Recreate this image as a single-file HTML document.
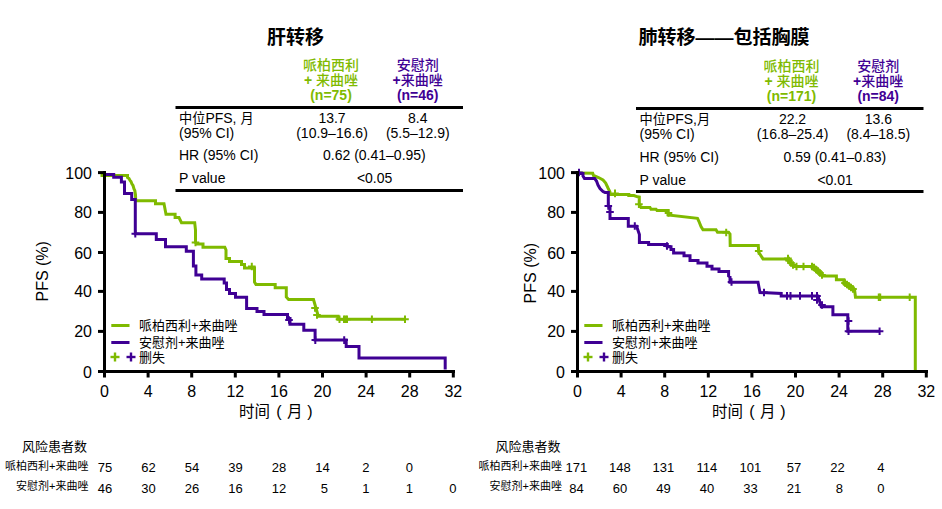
<!DOCTYPE html>
<html><head><meta charset="utf-8"><title>PFS</title>
<style>
html,body{margin:0;padding:0;background:#fff;width:942px;height:509px;overflow:hidden}
svg{display:block}
text{font-family:'Liberation Sans','Noto Sans CJK SC',sans-serif}
</style></head><body>
<svg width="942" height="509" viewBox="0 0 942 509">
<rect width="942" height="509" fill="#fff"/>
<g transform="translate(0,0)"><text x="267" y="44.0" font-size="19" font-weight="bold">肝转移</text><text x="331" y="70" text-anchor="middle" font-size="14" font-weight="bold" fill="#7fba00"><tspan font-weight="500">哌柏西利</tspan></text><text x="331" y="84.5" text-anchor="middle" font-size="14" font-weight="bold" fill="#7fba00">+ <tspan font-weight="500">来曲唑</tspan></text><text x="331" y="99.6" text-anchor="middle" font-size="14" font-weight="bold" fill="#7fba00">(n=75)</text><text x="417.7" y="70" text-anchor="middle" font-size="14" font-weight="bold" fill="#3f0094"><tspan font-weight="500">安慰剂</tspan></text><text x="417.7" y="84.5" text-anchor="middle" font-size="14" font-weight="bold" fill="#3f0094">+<tspan font-weight="500">来曲唑</tspan></text><text x="417.7" y="99.6" text-anchor="middle" font-size="14" font-weight="bold" fill="#3f0094">(n=46)</text><rect x="175.5" y="106" width="287.5" height="3" fill="#000"/><rect x="175.5" y="189" width="287.5" height="3" fill="#000"/><text x="179" y="123" font-size="14"><tspan font-size="13.2">中位</tspan>PFS, <tspan font-size="13.2">月</tspan></text><text x="179" y="137.6" font-size="14">(95% CI)</text><text x="179" y="159.7" font-size="14">HR (95% CI)</text><text x="179" y="182.9" font-size="14">P value</text><text x="332" y="123" text-anchor="middle" font-size="14">13.7</text><text x="332" y="137.6" text-anchor="middle" font-size="14">(10.9–16.6)</text><text x="417.8" y="123" text-anchor="middle" font-size="14">8.4</text><text x="417.8" y="137.6" text-anchor="middle" font-size="14">(5.5–12.9)</text><text x="374.4" y="159.7" text-anchor="middle" font-size="14">0.62 (0.41–0.95)</text><text x="374.6" y="182.6" text-anchor="middle" font-size="14">&lt;0.05</text></g><g transform="translate(0,1)"><text x="638.5" y="43.2" font-size="19" font-weight="bold">肺转移——包括胸膜</text><text x="791.5" y="70" text-anchor="middle" font-size="14" font-weight="bold" fill="#7fba00"><tspan font-weight="500">哌柏西利</tspan></text><text x="791.5" y="84.5" text-anchor="middle" font-size="14" font-weight="bold" fill="#7fba00">+ <tspan font-weight="500">来曲唑</tspan></text><text x="791.5" y="99.6" text-anchor="middle" font-size="14" font-weight="bold" fill="#7fba00">(n=171)</text><text x="878.2" y="70" text-anchor="middle" font-size="14" font-weight="bold" fill="#3f0094"><tspan font-weight="500">安慰剂</tspan></text><text x="878.2" y="84.5" text-anchor="middle" font-size="14" font-weight="bold" fill="#3f0094">+<tspan font-weight="500">来曲唑</tspan></text><text x="878.2" y="99.6" text-anchor="middle" font-size="14" font-weight="bold" fill="#3f0094">(n=84)</text><rect x="636.0" y="106" width="287.5" height="3" fill="#000"/><rect x="636.0" y="189" width="287.5" height="3" fill="#000"/><text x="639.5" y="123" font-size="14"><tspan font-size="13.2">中位</tspan>PFS,<tspan font-size="13.2">月</tspan></text><text x="639.5" y="137.6" font-size="14">(95% CI)</text><text x="639.5" y="160.6" font-size="14">HR (95% CI)</text><text x="639.5" y="183.8" font-size="14">P value</text><text x="792.5" y="123" text-anchor="middle" font-size="14">22.2</text><text x="792.5" y="137.6" text-anchor="middle" font-size="14">(16.8–25.4)</text><text x="878.3" y="123" text-anchor="middle" font-size="14">13.6</text><text x="878.3" y="137.6" text-anchor="middle" font-size="14">(8.4–18.5)</text><text x="834.9" y="160.6" text-anchor="middle" font-size="14">0.59 (0.41–0.83)</text><text x="835.1" y="183.5" text-anchor="middle" font-size="14">&lt;0.01</text></g><polyline points="100.5,175.5 127.5,175.5 127.5,177.5 129.0,178.6 130.0,180.5 131.0,181.6 132.0,184.0 133.0,185.5 134.0,189.0 134.8,190.5 135.5,195.0 135.7,200.7 155.5,200.7 155.5,203.8 164.0,203.8 166.0,214.2 175.1,214.2 175.1,217.5 179.0,217.5 181.5,222.7 194.7,222.7 195.5,230.0 195.5,242.5 197.0,244.0 203.0,244.0 203.0,247.2 224.8,247.2 226.0,250.0 226.0,258.5 229.5,258.5 229.5,261.4 241.5,261.4 241.5,264.5 244.5,264.5 244.5,268.0 254.5,268.0 254.5,282.0 256.0,284.6 275.2,284.6 275.2,287.8 286.3,287.8 286.3,297.0 288.6,299.5 313.5,299.5 318.3,316.2 338.0,316.2 338.0,319.3 405.0,319.3" fill="none" stroke="#7fba00" stroke-width="3" stroke-linejoin="miter" stroke-linecap="butt"/><path d="M194.5 238.7h2v7.6h-2z M191.7 241.5h7.6v2h-7.6z" fill="#7fba00"/><path d="M250.8 262.7h2v7.6h-2z M248.0 265.5h7.6v2h-7.6z" fill="#7fba00"/><path d="M314.0 304.2h2v7.6h-2z M311.2 307.0h7.6v2h-7.6z" fill="#7fba00"/><path d="M316.0 311.2h2v7.6h-2z M313.2 314.0h7.6v2h-7.6z" fill="#7fba00"/><path d="M338.5 315.5h2v7.6h-2z M335.7 318.3h7.6v2h-7.6z" fill="#7fba00"/><path d="M343.0 315.5h2v7.6h-2z M340.2 318.3h7.6v2h-7.6z" fill="#7fba00"/><path d="M344.5 315.5h2v7.6h-2z M341.7 318.3h7.6v2h-7.6z" fill="#7fba00"/><path d="M346.0 315.5h2v7.6h-2z M343.2 318.3h7.6v2h-7.6z" fill="#7fba00"/><path d="M370.9 315.5h2v7.6h-2z M368.1 318.3h7.6v2h-7.6z" fill="#7fba00"/><path d="M404.0 315.5h2v7.6h-2z M401.2 318.3h7.6v2h-7.6z" fill="#7fba00"/><polyline points="104.0,174.4 113.7,174.4 113.7,177.3 121.4,177.3 121.4,182.0 124.5,182.0 124.5,193.5 131.7,193.5 131.7,199.5 135.3,199.5 135.3,233.7 156.3,233.7 156.3,239.5 165.5,239.5 165.5,246.7 186.3,246.7 186.3,251.2 193.4,251.2 193.4,266.1 195.9,266.1 195.9,275.1 201.7,275.1 201.7,279.1 224.2,279.1 224.2,283.0 226.5,283.0 226.5,289.5 229.5,289.5 229.5,293.6 235.5,293.6 235.5,297.2 246.6,297.2 246.6,308.4 257.0,308.4 257.0,311.5 264.0,311.5 264.0,314.5 287.5,314.5 287.5,318.5 290.0,318.5 290.0,324.2 303.8,324.2 303.8,330.2 315.1,330.2 315.1,340.1 346.2,340.1 346.2,346.5 359.0,346.5 359.0,357.9 445.2,357.9 445.2,369.5" fill="none" stroke="#3f0094" stroke-width="3" stroke-linejoin="miter" stroke-linecap="butt"/><path d="M134.3 229.9h2v7.6h-2z M131.5 232.7h7.6v2h-7.6z" fill="#3f0094"/><path d="M288.0 316.2h2v7.6h-2z M285.2 319.0h7.6v2h-7.6z" fill="#3f0094"/><path d="M314.3 336.3h2v7.6h-2z M311.5 339.1h7.6v2h-7.6z" fill="#3f0094"/><path d="M343.2 336.3h2v7.6h-2z M340.4 339.1h7.6v2h-7.6z" fill="#3f0094"/><polyline points="579.0,173.0 592.7,173.3 593.5,175.5 598.5,177.5 603.0,180.0 605.7,183.0 608.0,188.0 610.0,192.0 610.0,194.4 628.8,194.4 628.8,195.6 634.0,195.6 637.5,196.8 639.3,197.0 639.3,204.4 641.0,207.5 650.0,207.5 651.0,209.2 656.0,209.2 657.0,210.5 668.0,210.5 668.0,215.0 697.5,218.3 699.0,221.5 701.0,226.5 703.0,229.7 716.0,229.7 717.5,232.2 728.5,232.2 730.0,234.0 730.2,245.5 758.3,245.5 758.6,252.0 763.0,258.9 786.0,258.9 794.0,266.5 812.0,266.5 823.7,276.0 836.4,276.0 836.4,279.7 843.9,279.7 843.9,284.0 854.5,289.3 855.5,297.2 915.3,297.2 915.3,370.0" fill="none" stroke="#7fba00" stroke-width="3" stroke-linejoin="miter" stroke-linecap="butt"/><path d="M614.0 189.6h2v7.6h-2z M611.2 192.4h7.6v2h-7.6z" fill="#7fba00"/><path d="M637.9 200.4h2v7.6h-2z M635.1 203.2h7.6v2h-7.6z" fill="#7fba00"/><path d="M667.5 209.2h2v7.6h-2z M664.7 212.0h7.6v2h-7.6z" fill="#7fba00"/><path d="M725.2 228.7h2v7.6h-2z M722.4 231.5h7.6v2h-7.6z" fill="#7fba00"/><path d="M757.7 247.2h2v7.6h-2z M754.9 250.0h7.6v2h-7.6z" fill="#7fba00"/><path d="M787.0 254.8h2v7.6h-2z M784.2 257.6h7.6v2h-7.6z" fill="#7fba00"/><path d="M788.0 256.7h2v7.6h-2z M785.2 259.5h7.6v2h-7.6z" fill="#7fba00"/><path d="M790.0 259.2h2v7.6h-2z M787.2 262.0h7.6v2h-7.6z" fill="#7fba00"/><path d="M792.0 261.2h2v7.6h-2z M789.2 264.0h7.6v2h-7.6z" fill="#7fba00"/><path d="M795.5 262.7h2v7.6h-2z M792.7 265.5h7.6v2h-7.6z" fill="#7fba00"/><path d="M802.5 262.7h2v7.6h-2z M799.7 265.5h7.6v2h-7.6z" fill="#7fba00"/><path d="M811.0 262.7h2v7.6h-2z M808.2 265.5h7.6v2h-7.6z" fill="#7fba00"/><path d="M813.0 263.7h2v7.6h-2z M810.2 266.5h7.6v2h-7.6z" fill="#7fba00"/><path d="M815.0 265.7h2v7.6h-2z M812.2 268.5h7.6v2h-7.6z" fill="#7fba00"/><path d="M817.0 267.2h2v7.6h-2z M814.2 270.0h7.6v2h-7.6z" fill="#7fba00"/><path d="M819.0 269.2h2v7.6h-2z M816.2 272.0h7.6v2h-7.6z" fill="#7fba00"/><path d="M821.0 271.2h2v7.6h-2z M818.2 274.0h7.6v2h-7.6z" fill="#7fba00"/><path d="M844.0 279.2h2v7.6h-2z M841.2 282.0h7.6v2h-7.6z" fill="#7fba00"/><path d="M846.0 280.7h2v7.6h-2z M843.2 283.5h7.6v2h-7.6z" fill="#7fba00"/><path d="M848.0 282.2h2v7.6h-2z M845.2 285.0h7.6v2h-7.6z" fill="#7fba00"/><path d="M850.0 283.7h2v7.6h-2z M847.2 286.5h7.6v2h-7.6z" fill="#7fba00"/><path d="M852.0 285.2h2v7.6h-2z M849.2 288.0h7.6v2h-7.6z" fill="#7fba00"/><path d="M877.8 293.4h2v7.6h-2z M875.0 296.2h7.6v2h-7.6z" fill="#7fba00"/><path d="M879.2 293.4h2v7.6h-2z M876.4 296.2h7.6v2h-7.6z" fill="#7fba00"/><path d="M908.7 293.4h2v7.6h-2z M905.9 296.2h7.6v2h-7.6z" fill="#7fba00"/><polyline points="579.0,173.4 583.0,173.4 583.0,176.0 584.5,178.5 594.7,178.5 596.5,181.0 598.0,185.0 600.0,188.5 603.0,191.5 605.0,192.4 608.3,192.4 608.3,206.0 610.0,207.5 610.0,218.6 628.3,218.6 628.3,226.3 636.6,226.3 639.4,234.4 639.4,242.4 648.6,242.4 648.6,244.4 667.3,244.4 667.3,246.8 671.0,246.8 671.0,249.5 673.6,249.5 673.6,253.0 684.0,253.0 684.0,255.7 690.0,255.7 690.0,260.4 698.0,260.4 698.0,263.1 707.0,263.1 707.0,266.2 712.0,266.2 712.0,268.9 719.0,268.9 719.0,271.6 728.6,271.6 728.6,276.0 730.0,277.0 730.0,282.2 758.0,282.2 760.0,292.5 781.2,293.5 781.2,295.9 818.0,295.9 821.2,306.8 832.9,306.8 832.9,314.7 847.8,314.7 847.8,331.2 880.0,331.2" fill="none" stroke="#3f0094" stroke-width="3" stroke-linejoin="miter" stroke-linecap="butt"/><path d="M578.0 168.7h2v7.6h-2z M575.2 171.5h7.6v2h-7.6z" fill="#3f0094"/><path d="M607.3 202.2h2v7.6h-2z M604.5 205.0h7.6v2h-7.6z" fill="#3f0094"/><path d="M609.0 208.2h2v7.6h-2z M606.2 211.0h7.6v2h-7.6z" fill="#3f0094"/><path d="M633.8 222.2h2v7.6h-2z M631.0 225.0h7.6v2h-7.6z" fill="#3f0094"/><path d="M666.0 242.2h2v7.6h-2z M663.2 245.0h7.6v2h-7.6z" fill="#3f0094"/><path d="M730.5 278.2h2v7.6h-2z M727.7 281.0h7.6v2h-7.6z" fill="#3f0094"/><path d="M763.0 288.7h2v7.6h-2z M760.2 291.5h7.6v2h-7.6z" fill="#3f0094"/><path d="M786.0 292.1h2v7.6h-2z M783.2 294.9h7.6v2h-7.6z" fill="#3f0094"/><path d="M789.5 292.1h2v7.6h-2z M786.7 294.9h7.6v2h-7.6z" fill="#3f0094"/><path d="M799.0 292.1h2v7.6h-2z M796.2 294.9h7.6v2h-7.6z" fill="#3f0094"/><path d="M811.0 292.1h2v7.6h-2z M808.2 294.9h7.6v2h-7.6z" fill="#3f0094"/><path d="M816.0 292.1h2v7.6h-2z M813.2 294.9h7.6v2h-7.6z" fill="#3f0094"/><path d="M816.0 296.2h2v7.6h-2z M813.2 299.0h7.6v2h-7.6z" fill="#3f0094"/><path d="M821.0 301.2h2v7.6h-2z M818.2 304.0h7.6v2h-7.6z" fill="#3f0094"/><path d="M847.5 317.2h2v7.6h-2z M844.7 320.0h7.6v2h-7.6z" fill="#3f0094"/><path d="M847.5 327.4h2v7.6h-2z M844.7 330.2h7.6v2h-7.6z" fill="#3f0094"/><path d="M878.6 327.4h2v7.6h-2z M875.8 330.2h7.6v2h-7.6z" fill="#3f0094"/><rect x="103" y="171" width="3" height="202" fill="#000"/><rect x="103" y="370" width="352" height="3" fill="#000"/><rect x="98" y="370.0" width="6" height="3" fill="#000"/><rect x="98" y="329.9" width="6" height="3" fill="#000"/><rect x="98" y="289.9" width="6" height="3" fill="#000"/><rect x="98" y="251.0" width="6" height="3" fill="#000"/><rect x="98" y="210.9" width="6" height="3" fill="#000"/><rect x="98" y="171.1" width="6" height="3" fill="#000"/><rect x="103.0" y="371" width="3" height="6.5" fill="#000"/><rect x="146.6" y="371" width="3" height="6.5" fill="#000"/><rect x="190.2" y="371" width="3" height="6.5" fill="#000"/><rect x="233.8" y="371" width="3" height="6.5" fill="#000"/><rect x="277.4" y="371" width="3" height="6.5" fill="#000"/><rect x="321.0" y="371" width="3" height="6.5" fill="#000"/><rect x="364.6" y="371" width="3" height="6.5" fill="#000"/><rect x="408.2" y="371" width="3" height="6.5" fill="#000"/><rect x="451.8" y="371" width="3" height="6.5" fill="#000"/><text x="92" y="377.5" text-anchor="end" font-size="16">0</text><text x="92" y="337.4" text-anchor="end" font-size="16">20</text><text x="92" y="297.4" text-anchor="end" font-size="16">40</text><text x="92" y="258.5" text-anchor="end" font-size="16">60</text><text x="92" y="218.4" text-anchor="end" font-size="16">80</text><text x="92" y="178.6" text-anchor="end" font-size="16">100</text><text x="104.5" y="397" text-anchor="middle" font-size="16">0</text><text x="148.1" y="397" text-anchor="middle" font-size="16">4</text><text x="191.7" y="397" text-anchor="middle" font-size="16">8</text><text x="235.3" y="397" text-anchor="middle" font-size="16">12</text><text x="278.9" y="397" text-anchor="middle" font-size="16">16</text><text x="322.5" y="397" text-anchor="middle" font-size="16">20</text><text x="366.1" y="397" text-anchor="middle" font-size="16">24</text><text x="409.7" y="397" text-anchor="middle" font-size="16">28</text><text x="453.3" y="397" text-anchor="middle" font-size="16">32</text><text transform="translate(48.3,271.3) rotate(-90)" text-anchor="middle" font-size="16">PFS (%)</text><text y="416.6" font-size="15.5"><tspan x="239">时间</tspan><tspan x="276.3" font-size="16">(</tspan><tspan x="287">月</tspan><tspan x="307.3" font-size="16">)</tspan></text><rect x="111.3" y="324" width="18.2" height="3" fill="#7fba00"/><rect x="111.3" y="341" width="18.2" height="3" fill="#3f0094"/><text x="139" y="329.6" font-size="13">哌柏西利+来曲唑</text><text x="139" y="346.5" font-size="13">安慰剂+来曲唑</text><text x="139" y="362" font-size="13">删失</text><rect x="113.8" y="352.5" width="2.4" height="9" fill="#7fba00"/><rect x="110.5" y="355.8" width="9" height="2.4" fill="#7fba00"/><rect x="129.8" y="352.5" width="2.4" height="9" fill="#3f0094"/><rect x="126.5" y="355.8" width="9" height="2.4" fill="#3f0094"/><rect x="576" y="171" width="3" height="202" fill="#000"/><rect x="576" y="370" width="352" height="3" fill="#000"/><rect x="571" y="370.0" width="6" height="3" fill="#000"/><rect x="571" y="329.9" width="6" height="3" fill="#000"/><rect x="571" y="289.9" width="6" height="3" fill="#000"/><rect x="571" y="251.0" width="6" height="3" fill="#000"/><rect x="571" y="210.9" width="6" height="3" fill="#000"/><rect x="571" y="171.1" width="6" height="3" fill="#000"/><rect x="576.0" y="371" width="3" height="6.5" fill="#000"/><rect x="619.6" y="371" width="3" height="6.5" fill="#000"/><rect x="663.2" y="371" width="3" height="6.5" fill="#000"/><rect x="706.8" y="371" width="3" height="6.5" fill="#000"/><rect x="750.4" y="371" width="3" height="6.5" fill="#000"/><rect x="794.0" y="371" width="3" height="6.5" fill="#000"/><rect x="837.6" y="371" width="3" height="6.5" fill="#000"/><rect x="881.2" y="371" width="3" height="6.5" fill="#000"/><rect x="924.8" y="371" width="3" height="6.5" fill="#000"/><text x="565" y="377.5" text-anchor="end" font-size="16">0</text><text x="565" y="337.4" text-anchor="end" font-size="16">20</text><text x="565" y="297.4" text-anchor="end" font-size="16">40</text><text x="565" y="258.5" text-anchor="end" font-size="16">60</text><text x="565" y="218.4" text-anchor="end" font-size="16">80</text><text x="565" y="178.6" text-anchor="end" font-size="16">100</text><text x="577.5" y="397" text-anchor="middle" font-size="16">0</text><text x="621.1" y="397" text-anchor="middle" font-size="16">4</text><text x="664.7" y="397" text-anchor="middle" font-size="16">8</text><text x="708.3" y="397" text-anchor="middle" font-size="16">12</text><text x="751.9" y="397" text-anchor="middle" font-size="16">16</text><text x="795.5" y="397" text-anchor="middle" font-size="16">20</text><text x="839.1" y="397" text-anchor="middle" font-size="16">24</text><text x="882.7" y="397" text-anchor="middle" font-size="16">28</text><text x="926.3" y="397" text-anchor="middle" font-size="16">32</text><text transform="translate(536.2,273.2) rotate(-90)" text-anchor="middle" font-size="16">PFS (%)</text><text y="416.6" font-size="15.5"><tspan x="712">时间</tspan><tspan x="749.3" font-size="16">(</tspan><tspan x="760">月</tspan><tspan x="780.3" font-size="16">)</tspan></text><rect x="584.3" y="324" width="18.2" height="3" fill="#7fba00"/><rect x="584.3" y="341" width="18.2" height="3" fill="#3f0094"/><text x="612" y="329.6" font-size="13">哌柏西利+来曲唑</text><text x="612" y="346.5" font-size="13">安慰剂+来曲唑</text><text x="612" y="362" font-size="13">删失</text><rect x="586.8" y="352.5" width="2.4" height="9" fill="#7fba00"/><rect x="583.5" y="355.8" width="9" height="2.4" fill="#7fba00"/><rect x="602.8" y="352.5" width="2.4" height="9" fill="#3f0094"/><rect x="599.5" y="355.8" width="9" height="2.4" fill="#3f0094"/><text x="87" y="451" text-anchor="end" font-size="13">风险患者数</text><text x="88.5" y="469.5" text-anchor="end" font-size="11">哌柏西利+来曲唑</text><text x="88.5" y="490" text-anchor="end" font-size="11">安慰剂+来曲唑</text><text x="104.9" y="472" text-anchor="middle" font-size="13">75</text><text x="148.4" y="472" text-anchor="middle" font-size="13">62</text><text x="191.9" y="472" text-anchor="middle" font-size="13">54</text><text x="235.4" y="472" text-anchor="middle" font-size="13">39</text><text x="278.9" y="472" text-anchor="middle" font-size="13">28</text><text x="322.4" y="472" text-anchor="middle" font-size="13">14</text><text x="365.9" y="472" text-anchor="middle" font-size="13">2</text><text x="409.4" y="472" text-anchor="middle" font-size="13">0</text><text x="104.9" y="492.6" text-anchor="middle" font-size="13">46</text><text x="148.4" y="492.6" text-anchor="middle" font-size="13">30</text><text x="191.9" y="492.6" text-anchor="middle" font-size="13">26</text><text x="235.4" y="492.6" text-anchor="middle" font-size="13">16</text><text x="278.9" y="492.6" text-anchor="middle" font-size="13">12</text><text x="324.4" y="492.6" text-anchor="middle" font-size="13">5</text><text x="365.9" y="492.6" text-anchor="middle" font-size="13">1</text><text x="409.4" y="492.6" text-anchor="middle" font-size="13">1</text><text x="452.9" y="492.6" text-anchor="middle" font-size="13">0</text><text x="560.4" y="451" text-anchor="end" font-size="13">风险患者数</text><text x="561.9" y="469.5" text-anchor="end" font-size="11">哌柏西利+来曲唑</text><text x="561.9" y="490" text-anchor="end" font-size="11">安慰剂+来曲唑</text><text x="576.4" y="472" text-anchor="middle" font-size="13">171</text><text x="619.9" y="472" text-anchor="middle" font-size="13">148</text><text x="663.4" y="472" text-anchor="middle" font-size="13">131</text><text x="706.9" y="472" text-anchor="middle" font-size="13">114</text><text x="750.4" y="472" text-anchor="middle" font-size="13">101</text><text x="793.9" y="472" text-anchor="middle" font-size="13">57</text><text x="837.4" y="472" text-anchor="middle" font-size="13">22</text><text x="880.9" y="472" text-anchor="middle" font-size="13">4</text><text x="576.4" y="492.6" text-anchor="middle" font-size="13">84</text><text x="619.9" y="492.6" text-anchor="middle" font-size="13">60</text><text x="663.4" y="492.6" text-anchor="middle" font-size="13">49</text><text x="706.9" y="492.6" text-anchor="middle" font-size="13">40</text><text x="750.4" y="492.6" text-anchor="middle" font-size="13">33</text><text x="793.9" y="492.6" text-anchor="middle" font-size="13">21</text><text x="839.4" y="492.6" text-anchor="middle" font-size="13">8</text><text x="880.9" y="492.6" text-anchor="middle" font-size="13">0</text>
</svg>
</body></html>
